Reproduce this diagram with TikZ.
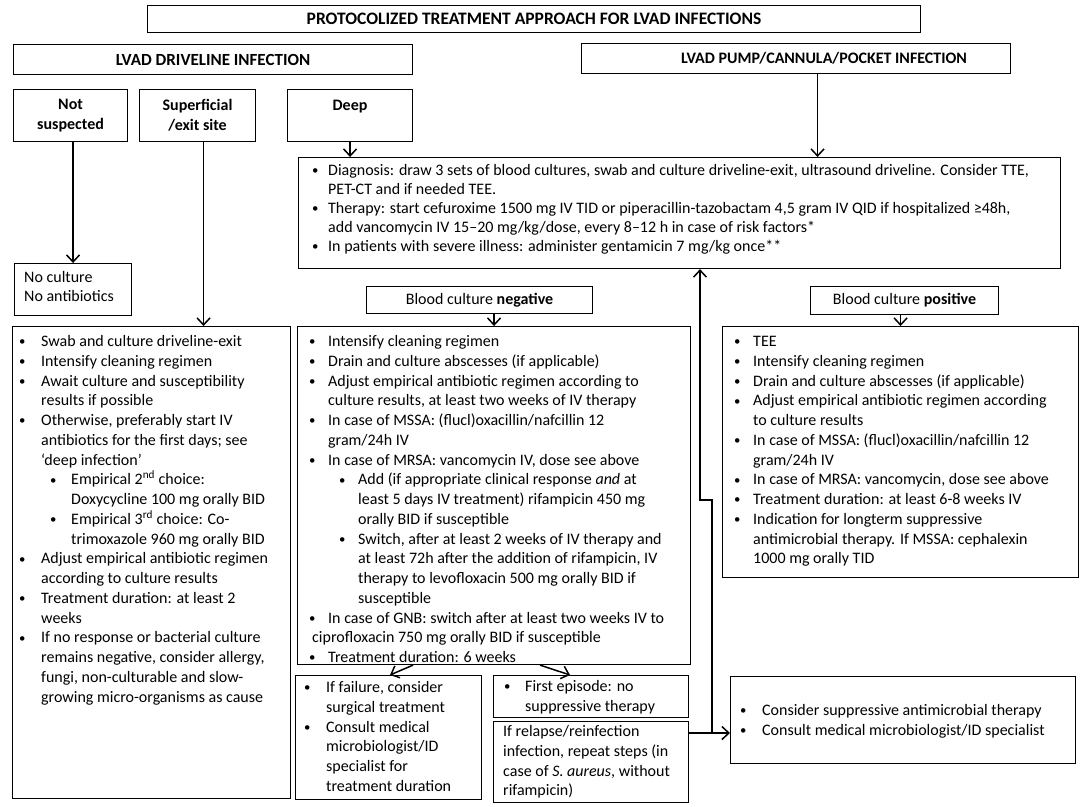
\documentclass[tikz,border=0pt]{standalone}
\usepackage{fontspec}
\setmainfont{Carlito}
\usetikzlibrary{arrows.meta,calc}

% small bullet, centred on its point
\newcommand{\bdot}{\makebox[0pt]{\raisebox{0.8pt}{\scalebox{0.8}{\textbullet}}}}
% bullet line: bullet centred at the node's x, text after a gap
\newcommand{\itm}[2][16]{\bdot\hspace*{#1pt}#2}
\newcommand{\cnt}[2][16]{\hspace*{#1pt}#2}
% second level: offset of the bullet, gap, text
\newcommand{\sitm}[3]{\hspace*{#1pt}\bdot\hspace*{#2pt}#3}
\newcommand{\scnt}[2]{\hspace*{#1pt}#2}

\begin{document}
\begin{tikzpicture}[x=1pt,y=-1pt,
	box/.style={draw,line width=1.1pt,anchor=north west,inner sep=0pt},
	head/.style={box,align=center,font=\fontsize{16}{19.75}\selectfont\bfseries},
	txt/.style={anchor=north west,inner sep=0pt,align=left,font=\fontsize{16}{19.75}\selectfont},
	arr/.style={-{Straight Barb[length=7pt,width=13pt]},line width=1.5pt}]
	\useasboundingbox (0,0) rectangle (1084,806);

	% headings
	\node[head,font=\fontsize{17.5}{20}\selectfont\bfseries,minimum width=773pt,minimum height=27pt] (title) at (147,5) {PROTOCOLIZED TREATMENT APPROACH FOR LVAD INFECTIONS};
	\node[head,font=\fontsize{17}{20}\selectfont\bfseries,minimum width=399pt,minimum height=30pt] (drive) at (13,44) {LVAD DRIVELINE INFECTION};
	\node[head,minimum width=429pt,minimum height=30pt] (pump) at (581,43) {\hspace*{56pt}LVAD PUMP/CANNULA/POCKET INFECTION};
	\node[head,minimum width=114pt,minimum height=52pt] (notsus) at (13,89) {Not\\suspected};
	\node[head,minimum width=116pt,minimum height=52pt] (sup) at (139,89) {Superficial\\/exit site};
	\node[head,minimum width=125pt,minimum height=52pt] (deep) at (287,89) {Deep\\~};
	\node[head,font=\fontsize{16}{19.75}\selectfont,minimum width=226pt,minimum height=27pt] (neg) at (366,286) {Blood culture \textbf{negative}};
	\node[head,font=\fontsize{16}{19.75}\selectfont,minimum width=188pt,minimum height=28pt] (pos) at (810,286) {Blood culture \textbf{positive}};

	% boxes
	\node[box,minimum width=117pt,minimum height=52pt] (nocult) at (14,263) {};
	\node[box,minimum width=278pt,minimum height=472pt] (left) at (12,326) {};
	\node[box,minimum width=762pt,minimum height=111pt] (diag) at (298,157) {};
	\node[box,minimum width=393pt,minimum height=338pt] (negbig) at (297,326) {};
	\node[box,minimum width=356pt,minimum height=251pt] (posbig) at (722,326) {};
	\node[box,minimum width=186pt,minimum height=124pt] (fail) at (295,675) {};
	\node[box,minimum width=195pt,minimum height=42pt] (first) at (493,675) {};
	\node[box,minimum width=195pt,minimum height=81pt] (relapse) at (493,721) {};
	\node[box,minimum width=345pt,minimum height=87pt] (consider) at (730,676) {};

	% texts
	\node[txt,font=\fontsize{16}{19}\selectfont] (nocult-t) at (24,268.7) {\strut No culture\\No antibiotics};
	\node[txt] (left-t) at (22,332.7) {\strut\itm[19]{Swab and culture driveline-exit}\\
		\itm[19]{Intensify cleaning regimen}\\
		\itm[19]{Await culture and susceptibility}\\
		\cnt[19]{results if possible}\\
		\itm[19]{Otherwise, preferably start IV}\\
		\cnt[19]{antibiotics for the first days; see}\\
		\cnt[19]{‘deep infection’}\\
		\sitm{31}{18}{Empirical 2\textsuperscript{nd} choice:}\\
		\scnt{49}{Doxycycline 100 mg orally BID}\\
		\sitm{31}{18}{Empirical 3\textsuperscript{rd} choice: Co-}\\
		\scnt{49}{trimoxazole 960 mg orally BID}\\
		\itm[19]{Adjust empirical antibiotic regimen}\\
		\cnt[19]{according to culture results}\\
		\itm[19]{Treatment duration: at least 2}\\
		\cnt[19]{weeks}\\
		\itm[19]{If no response or bacterial culture}\\
		\cnt[19]{remains negative, consider allergy,}\\
		\cnt[19]{fungi, non-culturable and slow-}\\
		\cnt[19]{growing micro-organisms as cause}};
	\node[txt,font=\fontsize{16}{19}\selectfont] (diag-t) at (315,161.7) {\strut\itm[13]{Diagnosis: draw 3 sets of blood cultures, swab and culture driveline-exit, ultrasound driveline. Consider TTE,}\\
		\cnt[13]{PET-CT and if needed TEE.}\\
		\itm[13]{Therapy: start cefuroxime 1500 mg IV TID or piperacillin-tazobactam 4,5 gram IV QID if hospitalized ≥48h,}\\
		\cnt[13]{add vancomycin IV 15–20 mg/kg/dose, every 8–12 h in case of risk factors*}\\
		\itm[13]{In patients with severe illness: administer gentamicin 7 mg/kg once**}};
	\node[txt] (negbig-t) at (312,332.7) {\strut\itm{Intensify cleaning regimen}\\
		\itm{Drain and culture abscesses (if applicable)}\\
		\itm{Adjust empirical antibiotic regimen according to}\\
		\cnt{culture results, at least two weeks of IV therapy}\\
		\itm{In case of MSSA: (flucl)oxacillin/nafcillin 12}\\
		\cnt{gram/24h IV}\\
		\itm{In case of MRSA: vancomycin IV, dose see above}\\
		\sitm{30}{16}{Add (if appropriate clinical response \emph{and} at}\\
		\scnt{46}{least 5 days IV treatment) rifampicin 450 mg}\\
		\scnt{46}{orally BID if susceptible}\\
		\sitm{30}{16}{Switch, after at least 2 weeks of IV therapy and}\\
		\scnt{46}{at least 72h after the addition of rifampicin, IV}\\
		\scnt{46}{therapy to levofloxacin 500 mg orally BID if}\\
		\scnt{46}{susceptible}\\
		\itm{In case of GNB: switch after at least two weeks IV to}\\
		ciprofloxacin 750 mg orally BID if susceptible\\
		\itm{Treatment duration: 6 weeks}};
	\node[txt] (posbig-t) at (737,332.7) {\strut\itm{TEE}\\
		\itm{Intensify cleaning regimen}\\
		\itm{Drain and culture abscesses (if applicable)}\\
		\itm{Adjust empirical antibiotic regimen according}\\
		\cnt{to culture results}\\
		\itm{In case of MSSA: (flucl)oxacillin/nafcillin 12}\\
		\cnt{gram/24h IV}\\
		\itm{In case of MRSA: vancomycin, dose see above}\\
		\itm{Treatment duration: at least 6-8 weeks IV}\\
		\itm{Indication for longterm suppressive}\\
		\cnt{antimicrobial therapy. If MSSA: cephalexin}\\
		\cnt{1000 mg orally TID}};
	\node[txt] (fail-t) at (307,678.7) {\strut\itm[19]{If failure, consider}\\
		\cnt[19]{surgical treatment}\\
		\itm[19]{Consult medical}\\
		\cnt[19]{microbiologist/ID}\\
		\cnt[19]{specialist for}\\
		\cnt[19]{treatment duration}};
	\node[txt] (first-t) at (507,677.7) {\strut\itm[18]{First episode: no}\\
		\cnt[18]{suppressive therapy}};
	\node[txt] (relapse-t) at (503,722.7) {\strut If relapse/reinfection\\
		infection, repeat steps (in\\
		case of \emph{S. aureus}, without\\
		rifampicin)};
	\node[txt] (consider-t) at (743,701.7) {\strut\itm[19]{Consider suppressive antimicrobial therapy}\\
		\itm[19]{Consult medical microbiologist/ID specialist}};

	% connectors
	\coordinate (pumpout) at ($(pump.south west)!0.55!(pump.south east)$);
	\coordinate (supout) at ($(sup.south)+(6,0)$);
	\coordinate (split) at ($(relapse.north east)+(23,12)$);
	\coordinate (jog) at (700,500);
	\draw[arr] (nocult.north |- notsus.south) -- (nocult.north);
	\draw[arr] (supout) -- (supout |- left.north);
	\draw[arr] (deep.south) -- (deep.south |- diag.north);
	\draw[arr] (pumpout) -- (pumpout |- diag.north);
	\draw[arr] (negbig.north |- neg.south) -- (negbig.north);
	\draw[arr] (posbig.north |- pos.south) -- (posbig.north);
	\draw[arr] ($(negbig.south west)+(116,0)$) -- ($(fail.north west)+(95,0)$);
	\draw[arr] ($(negbig.south west)+(243,0)$) -- ($(first.north west)+(77,0)$);
	\draw[arr] ($(relapse.north east)+(0,12)$) -- (consider.west |- split);
	\draw[arr] (split) |- (jog) -- (jog |- diag.south);
\end{tikzpicture}
\end{document}
